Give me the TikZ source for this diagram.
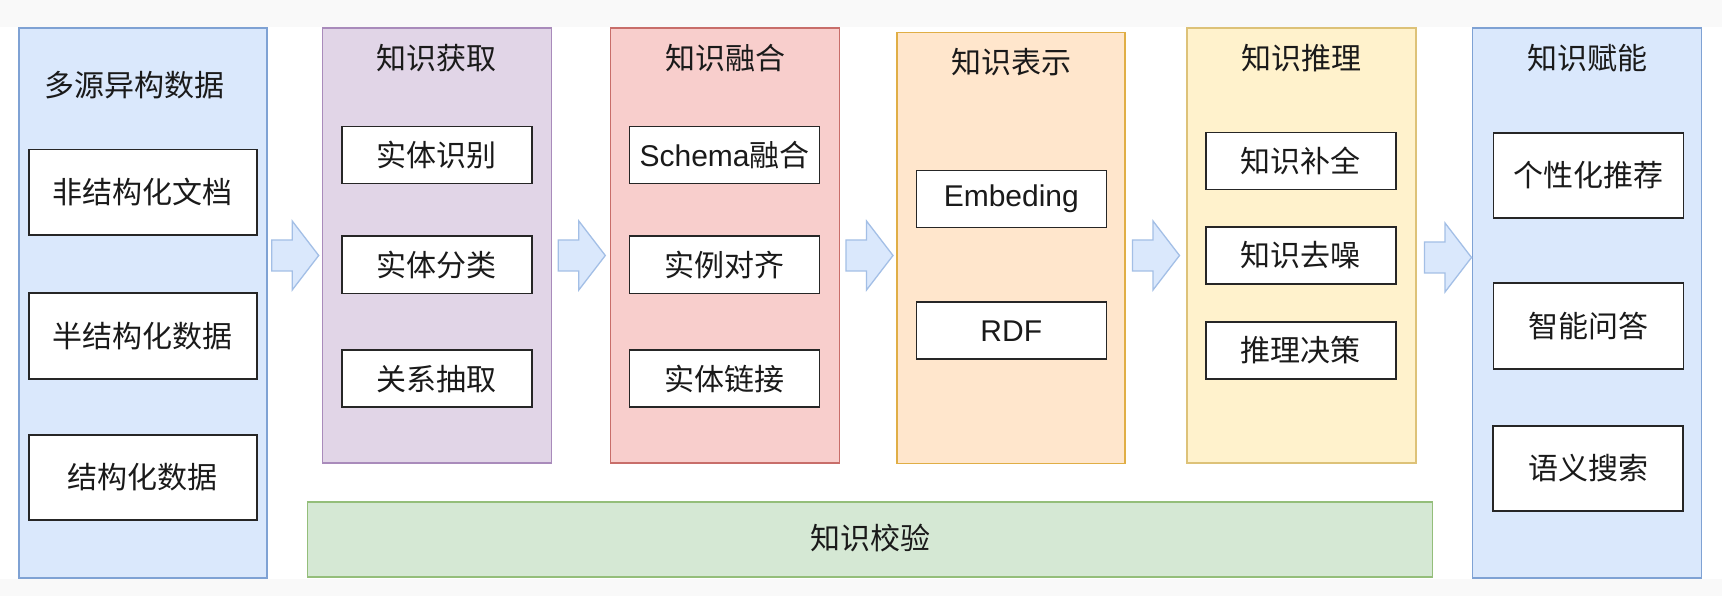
\documentclass[tikz,border=0pt]{standalone}
\usepackage{fontspec}
\setmainfont{Liberation Sans}
\newfontfamily\cjk{Noto Sans CJK SC}
\newfontfamily\lat{Liberation Sans}
\definecolor{bluef}{HTML}{DAE8FC}\definecolor{blued}{HTML}{7FA2D4}
\definecolor{purf}{HTML}{E1D5E7}\definecolor{purd}{HTML}{A98BBB}
\definecolor{redf}{HTML}{F8CECC}\definecolor{redd}{HTML}{C86E6A}
\definecolor{orf}{HTML}{FFE6CC}\definecolor{ord}{HTML}{E0AE45}
\definecolor{yelf}{HTML}{FFF2CC}\definecolor{yeld}{HTML}{DDC278}
\definecolor{grf}{HTML}{D5E8D4}\definecolor{grd}{HTML}{94BE7A}
\definecolor{arrd}{HTML}{A3BFE6}
\definecolor{txtc}{HTML}{1A1A1A}
\definecolor{margin}{HTML}{F9F9F9}
\begin{document}
\begin{tikzpicture}[x=1pt,y=-1pt,
  txt/.style={font=\cjk\fontsize{30}{36}\selectfont, text=txtc, inner sep=0pt},
  panel/.style={rectangle, line width=1.3pt, inner sep=0pt},
  item/.style={txt, rectangle, draw=black!85, fill=white, line width=1.6pt, minimum width=190pt, minimum height=57pt},
  bigitem/.style={item, minimum height=85.5pt},
  arrowshape/.style={fill=bluef, draw=arrd, line width=1.3pt, line join=miter},
  pics/barrow/.style={code={\draw[arrowshape] (0,-15.5) -- (20.5,-15.5) -- (20.5,-34.5) -- (47,0) -- (20.5,34.5) -- (20.5,15.5) -- (0,15.5) -- cycle;}}
]
\useasboundingbox (0,0) rectangle (1722,596);
\fill[white] (0,0) rectangle (1722,596);
\fill[margin] (0,0) rectangle (1722,27);
\fill[margin] (0,579) rectangle (1722,596);

% panels
\node[panel, fill=bluef, draw=blued, minimum width=248pt, minimum height=550pt] (L) at (143,303) {};
\node[panel, fill=purf, draw=purd, minimum width=229pt, minimum height=435pt] (P) at (436.8,245.5) {};
\node[panel, fill=redf, draw=redd, minimum width=229pt, minimum height=435pt] (R) at (725,245.5) {};
\node[panel, fill=orf, draw=ord, minimum width=228pt, minimum height=431pt] (O) at (1011,247.7) {};
\node[panel, fill=yelf, draw=yeld, minimum width=229pt, minimum height=435pt] (Y) at (1301.5,245.5) {};
\node[panel, fill=bluef, draw=blued, minimum width=229pt, minimum height=550pt] (B) at (1587.3,303) {};
\node[panel, fill=grf, draw=grd, minimum width=1125pt, minimum height=75pt] (G) at (869.9,539.4) {};

% titles
\node[txt] (Lt) at (134.5,85) {多源异构数据};
\node[txt] (Pt) at (436.8,58) {知识获取};
\node[txt] (Rt) at (725,58) {知识融合};
\node[txt] (Ot) at (1011,61.7) {知识表示};
\node[txt] (Yt) at (1301.5,58) {知识推理};
\node[txt] (Bt) at (1587.3,58) {知识赋能};
\node[txt] (Gt) at (870,537.7) {知识校验};

% left items
\node[bigitem, minimum width=228pt] (L1) at (142.7,192.3) {非结构化文档};
\node[bigitem, minimum width=228pt] (L2) at (142.7,336) {半结构化数据};
\node[bigitem, minimum width=228pt] (L3) at (142.7,477.5) {结构化数据};

% acquisition
\node[item] (P1) at (436.9,155.2) {实体识别};
\node[item] (P2) at (436.9,264.8) {实体分类};
\node[item] (P3) at (436.9,378.7) {关系抽取};

% fusion
\node[item] (R1) at (724.6,155.2) {{\lat Schema}融合};
\node[item] (R2) at (724.6,264.8) {实例对齐};
\node[item] (R3) at (724.6,378.7) {实体链接};

% representation
\node[item, font=\lat\fontsize{30}{36}\selectfont] (O1) at (1011.3,199.2) {Embeding};
\node[item, font=\lat\fontsize{30}{36}\selectfont] (O2) at (1011.3,330.7) {RDF};

% reasoning
\node[item] (Y1) at (1300.8,161.2) {知识补全};
\node[item] (Y2) at (1300.8,255.3) {知识去噪};
\node[item] (Y3) at (1300.8,350.3) {推理决策};

% empowerment
\node[bigitem] (B1) at (1588.5,175.5) {个性化推荐};
\node[bigitem] (B2) at (1588.5,326) {智能问答};
\node[bigitem] (B3) at (1588,468.5) {语义搜索};

% block arrows
\pic (A1) at (271.7,255.5) {barrow};
\pic (A2) at (558.3,255.5) {barrow};
\pic (A3) at (846,255.5) {barrow};
\pic (A4) at (1132.5,255.5) {barrow};
\pic (A5) at (1424.5,257.5) {barrow};
\end{tikzpicture}
\end{document}
